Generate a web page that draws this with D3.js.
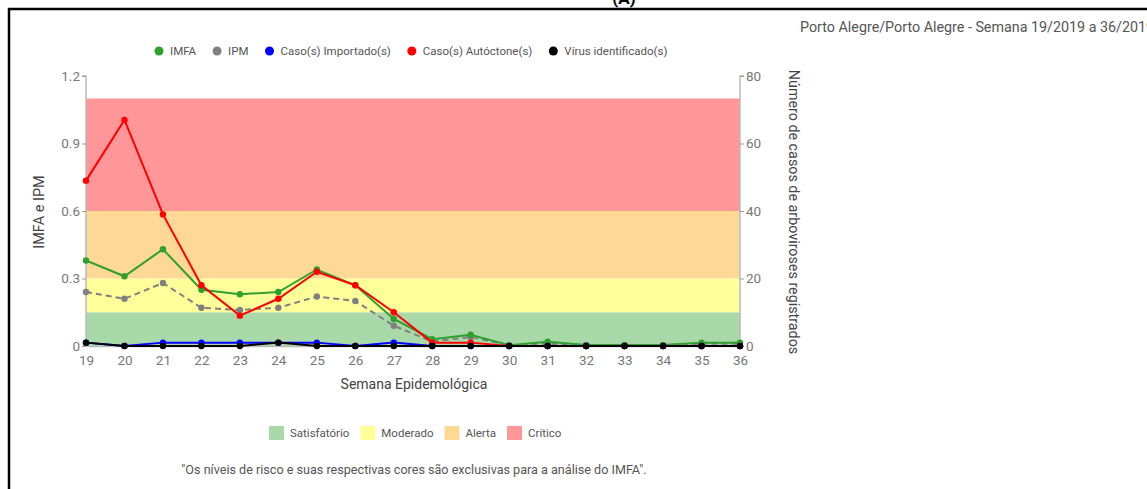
<!DOCTYPE html>
<html>
<head>
<meta charset="utf-8">
<script src="https://cdn.jsdelivr.net/npm/d3@7"></script>
<style>
  body { margin: 0; background: #fff; }
  text { font-family: Roboto, "Liberation Sans", sans-serif; }
</style>
</head>
<body>
<div id="chart"></div>
<script>
// semanas epidemiológicas
const weeks = [19, 20, 21, 22, 23, 24, 25, 26, 27, 28, 29, 30, 31, 32, 33, 34, 35, 36];
// left axis series
const imfa = [0.38, 0.31, 0.43, 0.25, 0.23, 0.24, 0.34, 0.27, 0.12, 0.03, 0.05, 0.003, 0.019, 0.004, 0.004, 0.004, 0.015, 0.015];
const ipm = [0.24, 0.21, 0.28, 0.17, 0.16, 0.17, 0.22, 0.20, 0.09, 0.02, 0.04, 0.003, 0.01, 0.004, 0.004, 0.004, 0.01, 0.01];
// right axis series (counts)
const importados = [1, 0, 1, 1, 1, 1, 1, 0, 1, 0, 0, 0, 0, 0, 0, 0, 0, 0];
const autoctones = [49, 67, 39, 18, 9, 14, 22, 18, 10, 1, 1, 0, 0, 0, 0, 0, 0, 0];
const virus = [1, 0, 0, 0, 0, 1, 0, 0, 0, 0, 0, 0, 0, 0, 0, 0, 0, 0];
const leftTicks = [0, 0.3, 0.6, 0.9, 1.2];
const rightTicks = [0, 20, 40, 60, 80];
const riskBands = [
    { name: "Satisfatório", from: 0, to: 0.15, color: "#a9d8a9" },
    { name: "Moderado", from: 0.15, to: 0.3, color: "#ffff99" },
    { name: "Alerta", from: 0.3, to: 0.6, color: "#fdd995" },
    { name: "Crítico", from: 0.6, to: 1.1, color: "#ff9697" }
];

const W = 1147, H = 489;
const margin = { top: 76, left: 86 };
const width = 654, height = 270;

const svg = d3.select("#chart").append("svg")
    .attr("width", W)
    .attr("height", H);

// outer frame
svg.append("rect")
    .attr("x", 9).attr("y", 9)
    .attr("width", 1300).attr("height", 600)
    .attr("fill", "none")
    .attr("stroke", "#000")
    .attr("stroke-width", 2.5);

svg.append("text")
    .attr("x", 624).attr("y", 4)
    .attr("text-anchor", "middle")
    .attr("font-size", 17)
    .attr("font-weight", "bold")
    .text("(A)");

svg.append("text")
    .attr("x", 800).attr("y", 32)
    .attr("font-size", 14.3)
    .attr("fill", "#555")
    .text("Porto Alegre/Porto Alegre - Semana 19/2019 a 36/2019");

const g = svg.append("g")
    .attr("transform", `translate(${margin.left},${margin.top})`);

const x = d3.scalePoint().domain(weeks).range([0, width]);
const yL = d3.scaleLinear().domain([0, 1.2]).range([height, 0]);
const yR = d3.scaleLinear().domain([0, 80]).range([height, 0]);

g.selectAll("rect.band")
    .data(riskBands)
    .join("rect")
    .attr("class", "band")
    .attr("x", 0)
    .attr("y", d => yL(d.to))
    .attr("width", width)
    .attr("height", d => yL(d.from) - yL(d.to))
    .attr("fill", d => d.color);

// axes
const axL = g.append("g")
    .call(d3.axisLeft(yL).tickValues(leftTicks).tickSize(4).tickPadding(2).tickFormat(d => d === 0 ? "0" : d3.format(".1f")(d)));
const axR = g.append("g")
    .attr("transform", `translate(${width},0)`)
    .call(d3.axisRight(yR).tickValues(rightTicks).tickSize(4).tickPadding(2));
const axB = g.append("g")
    .attr("transform", `translate(0,${height})`)
    .call(d3.axisBottom(x).tickSize(0).tickPadding(9));

[axL, axR, axB].forEach(a => {
    a.select(".domain").attr("stroke", "#bbb").attr("stroke-width", 1.5);
    a.selectAll(".tick line").attr("stroke", "#999");
    a.selectAll(".tick text")
        .attr("fill", "#777")
        .attr("font-size", 13.5)
        .attr("font-family", "Roboto, sans-serif");
});
axL.select(".domain").attr("d", `M-4,0H0V${height}`);
axR.select(".domain").attr("d", `M4,0H0V${height}`);

const lineL = d3.line().x((d, i) => x(weeks[i])).y(d => yL(d));
const lineR = d3.line().x((d, i) => x(weeks[i])).y(d => yR(d));

const series = [
    { vals: ipm, line: lineL, y: yL, color: "#808080", dash: "6,4" },
    { vals: imfa, line: lineL, y: yL, color: "#2ea02e", dash: null },
    { vals: autoctones, line: lineR, y: yR, color: "#ff0000", dash: null },
    { vals: importados, line: lineR, y: yR, color: "#0000ff", dash: null },
    { vals: virus, line: lineR, y: yR, color: "#000000", dash: null }
];

series.forEach(s => {
    g.append("path")
        .datum(s.vals)
        .attr("d", s.line)
        .attr("fill", "none")
        .attr("stroke", s.color)
        .attr("stroke-width", 2)
        .attr("stroke-dasharray", s.dash);
    g.selectAll(null)
        .data(s.vals)
        .join("circle")
        .attr("cx", (d, i) => x(weeks[i]))
        .attr("cy", d => s.y(d))
        .attr("r", 3.2)
        .attr("fill", s.color);
});

// axis titles
svg.append("text")
    .attr("transform", `translate(44,212) rotate(-90)`)
    .attr("text-anchor", "middle")
    .attr("font-size", 14.5)
    .attr("fill", "#444")
    .text("IMFA e IPM");

svg.append("text")
    .attr("transform", `translate(789,212) rotate(90)`)
    .attr("text-anchor", "middle")
    .attr("font-size", 14.3)
    .attr("fill", "#444")
    .text("Número de casos de arboviroses registrados");

svg.append("text")
    .attr("x", 414).attr("y", 389)
    .attr("text-anchor", "middle")
    .attr("font-size", 14)
    .attr("fill", "#444")
    .text("Semana Epidemológica");

// top legend
const topLegend = [
    { name: "IMFA", color: "#2ea02e" },
    { name: "IPM", color: "#808080" },
    { name: "Caso(s) Importado(s)", color: "#0000ff" },
    { name: "Caso(s) Autóctone(s)", color: "#ff0000" },
    { name: "Vírus identificado(s)", color: "#000000" }
];
const tl = svg.append("g").attr("transform", "translate(159,51)");
let off = 0;
topLegend.forEach(d => {
    const it = tl.append("g").attr("transform", `translate(${off},0)`);
    it.append("circle").attr("r", 4.5).attr("fill", d.color);
    const t = it.append("text")
        .attr("x", 11).attr("y", 4)
        .attr("font-size", 11.5)
        .attr("fill", "#555")
        .text(d.name);
    off += 11 + t.node().getComputedTextLength() + 21;
});

// bottom legend
const bl = svg.append("g").attr("transform", "translate(269,426)");
let boff = 0;
riskBands.forEach(d => {
    const it = bl.append("g").attr("transform", `translate(${boff},0)`);
    it.append("rect").attr("width", 15).attr("height", 14).attr("fill", d.color);
    const t = it.append("text")
        .attr("x", 21).attr("y", 11)
        .attr("font-size", 11.5)
        .attr("fill", "#555")
        .text(d.name);
    boff += 21 + t.node().getComputedTextLength() + 11;
});

svg.append("text")
    .attr("x", 414).attr("y", 474)
    .attr("text-anchor", "middle")
    .attr("font-size", 12.6)
    .attr("fill", "#555")
    .text("\"Os níveis de risco e suas respectivas cores são exclusivas para a análise do IMFA\".");
</script>
</body>
</html>
